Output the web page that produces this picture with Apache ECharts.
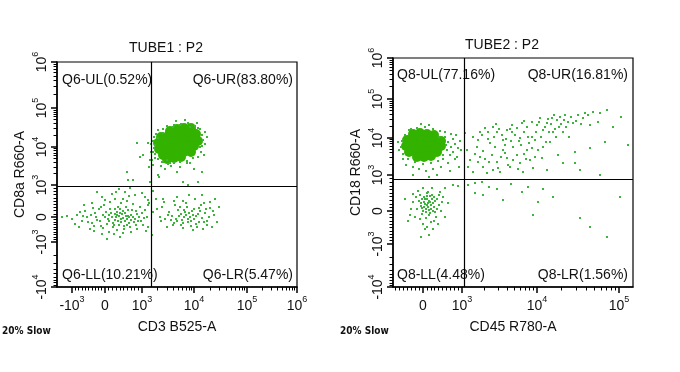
<!DOCTYPE html>
<html><head><meta charset="utf-8">
<script src="https://cdn.jsdelivr.net/npm/echarts@6/dist/echarts.min.js"></script>
<style>html,body{margin:0;padding:0;background:#fff}#c{width:680px;height:372px}</style>
</head><body><div id="c"></div><script>
// ---------- Display-channel scale values (biexponential display units) ----------
// TUBE1 axes
const t1XTicks = [15, 48, 85, 137, 190, 240];
const t1XLabels = ['-10^3', '0', '10^3', '10^4', '10^5', '10^6'];
const t1YTicks = [0, 45, 70, 102, 140, 179, 225];
const t1YLabels = ['-10^4', '-10^3', '0', '10^3', '10^4', '10^5', '10^6'];
const t1Gate = [94, 101];
// TUBE2 axes
const t2XTicks = [30, 69, 144, 226];
const t2XLabels = ['0', '10^3', '10^4', '10^5'];
const t2YTicks = [0, 43, 76, 112, 149, 188, 229];
const t2YLabels = ['-10^4', '-10^3', '0', '10^3', '10^4', '10^5', '10^6'];
const t2Gate = [71, 108];

const t1Quad = ['Q6-UL(0.52%)', 'Q6-UR(83.80%)', 'Q6-LL(10.21%)', 'Q6-LR(5.47%)'];
const t2Quad = ['Q8-UL(77.16%)', 'Q8-UR(16.81%)', 'Q8-LL(4.48%)', 'Q8-LR(1.56%)'];

// ---------- Events (CD3 vs CD8a) ----------
const t1Core = [[113,156],[120,158],[127,159],[134,159],
 [104,150],[111,151],[118,152],[125,152],[132,153],[139,153],
 [101,144],[108,145],[115,146],[122,146],[129,147],[136,147],[141,146],
 [102,138],[109,139],[116,140],[123,140],[130,141],[137,141],
 [106,132],[113,133],[120,134],[127,135],[134,135],
 [110,128],[117,129],[124,130]];
const t1Dots = [[99,153],[101,157],[106,158],[110,161],[117,162],[124,163],[131,164],[138,161],[143,158],[145,152],[146,147],[145,141],[144,135],[141,130],[136,129],[130,126],[123,125],[117,124],[111,123],[106,125],[101,128],[98,133],[97,139],[96,146],[97,150],[119,166],[128,167],[140,164],[148,155],[148,143],[147,132],[133,124],[114,121],[104,121],[95,127],[94,135],[94,143],[80,144],[83,130],[86,132],[93,127],[91,144],[76,107],[70,115],[101,112],[113,124],[120,115],[123,120],[130,124],[143,140],[141,159],[133,160],[116,160],[123,162],[106,154],[101,149],[98,142],[96,135],[98,129],[105,125],[110,127],[126,105],[131,102],[141,105],[145,115],[102,110],[93,105],[71,107],[108,118],[137,118],[150,150],[92,120],[96,122],
 // lower-left population
 [66,69],[62,71],[70,68],[58,67],[74,72],[64,65],[68,74],[55,70],[78,68],[60,75],[72,64],[52,66],[80,73],[67,61],[63,78],[57,62],[75,77],[48,70],[84,66],[69,80],[61,66],[71,71],[65,73],[59,70],[77,65],[54,74],[82,70],[50,63],[73,60],[46,72],
 [40,67],[44,61],[38,74],[35,64],[42,78],[30,70],[33,58],[28,76],[25,66],[20,72],[15,68],[10,71],[22,60],[47,82],[53,85],[58,88],[64,84],[70,86],[76,83],[83,80],[88,77],[86,62],[80,58],[74,55],[66,54],[60,57],[52,55],[45,53],[37,56],[88,90],[78,92],[68,95],[55,93],[45,90],[62,98],[73,99],[35,84],[90,70],[91,82],[89,56],[63,50],[50,48],[27,82],[18,63],[5,70],[40,95],[85,94],
 [64,68],[68,66],[60,72],[72,70],[66,76],[56,64],[62,62],[70,62],[76,70],[58,78],[52,72],[79,76],
 [43,66],[49,75],[56,60],[61,80],[67,58],[79,62],[85,74],[39,70],[34,72],[31,65],[26,71],[23,75],[37,61],[46,59],[53,78],[71,77],[74,67],[63,74],[58,73],[69,71],[81,66],[87,69],[51,68],[44,80],[36,79],[57,53],[66,88],[72,91],[59,95],[48,87],
 // lower-right population
 [133,70],[129,72],[137,68],[125,67],[141,73],[131,65],[135,76],[122,71],[145,69],[127,77],[139,63],[119,68],[148,74],[134,61],[130,80],[124,62],[142,79],[115,71],[150,66],[136,72],
 [112,75],[108,68],[105,80],[118,82],[126,86],[138,88],[147,84],[153,79],[157,72],[160,65],[155,60],[146,58],[136,57],[126,59],[116,62],[110,60],[104,66],[120,90],[132,92],[145,92],[158,88],[162,80],[107,85],[150,62],[142,65],[128,75],[121,77],[117,64],[144,82],[152,70],
 [131,68],[127,70],[139,71],[134,66],[124,73],[143,76],[120,66],[147,65],[137,78],[132,74],[114,67],[156,76],[153,85],[129,84],[123,80],[140,60],[111,72],[117,86],[149,78],[126,64],
 [96,96],[99,88],[106,88],[92,84],[100,78],[91,60],[95,52],[96,75],[91,87],[103,70]];

// ---------- Events (CD45 vs CD18) ----------
const t2Core = [[20,153],[27,154],[34,153],[41,152],
 [14,147],[21,148],[28,147],[35,148],[42,147],[48,146],
 [13,141],[20,141],[27,142],[34,141],[41,141],[48,141],
 [16,135],[23,135],[30,136],[37,135],[44,135],
 [24,130],[31,130],[38,131]];
const t2Dots = [[52,150],[55,145],[58,140],[54,137],[60,148],[62,143],[65,139],[57,132],[50,128],[45,126],[38,124],[30,123],[22,125],[15,128],[10,133],[8,140],[9,146],[12,152],[16,157],[24,159],[32,160],[40,158],[47,156],[52,155],[58,153],[63,152],[67,146],[68,137],[62,128],[55,124],[48,120],[40,118],[33,116],[26,118],[20,120],[13,122],[6,137],[5,145],[28,163],[20,112],[44,112],[57,116],[66,120],[36,110],[50,132],[53,142],[46,150],[10,128],[18,158],[36,162],[60,135],[64,130],
 // upper-right band
 [72,154],[80,150],[87,155],[92,159],[100,160],[104,155],[109,152],[114,157],[119,162],[124,159],[129,164],[134,160],[139,165],[144,162],[147,169],[150,157],[154,164],[159,169],[164,167],[167,170],[172,172],[175,165],[180,164],[185,172],[190,169],[195,172],[200,175],[207,174],[214,177],[197,162],[212,145],[235,142],[182,135],[197,139],[165,132],[170,124],[182,124],[154,117],[187,117],[207,112],
 [74,137],[77,127],[84,140],[87,130],[90,120],[97,144],[99,132],[104,125],[100,117],[110,137],[114,129],[117,120],[120,140],[124,132],[127,124],[130,115],[134,137],[137,127],[140,119],[145,137],[149,129],[107,115],[94,114],[80,115],[75,120],[85,147],[110,147],[127,149],[139,150],
 [152,160],[158,163],[162,158],[168,163],[173,160],[156,155],[163,150],[170,155],[143,155],[135,150],[128,142],[118,146],[112,142],[122,152],[95,148],[102,140],[90,136],[82,133],[96,125],[108,130],[115,122],[125,118],[133,128],[142,130],[150,140],[157,145],[176,150],[220,160],[228,170],[205,165],
 [95,155],[101,150],[106,158],[113,148],[119,155],[126,146],[131,155],[136,144],[142,147],[148,150],[153,145],[160,155],[166,160],[171,167],[178,170],[183,166],[188,163],[192,174],[161,172],[155,168],[146,165],[131,166],[117,158],[103,163],[89,152],[85,125],[92,128],[120,127],[131,133],[105,119],[112,134],[139,139],
 // below the horizontal gate
 [60,102],[65,101],[52,99],[75,102],[82,104],[89,105],[82,94],[90,92],[110,87],[129,95],[140,72],[145,85],[160,90],[187,69],[197,60],[214,50],[227,90],[96,100],[104,98],[118,103],[135,100],[150,98],
 // lower-left population
 [35,80],[32,83],[38,78],[30,76],[40,84],[34,88],[28,81],[42,75],[36,72],[31,90],[39,92],[26,86],[44,88],[33,69],[37,85],[29,73],[41,80],[35,95],[24,78],[46,82],[27,92],[43,70],[38,65],[30,63],[22,70],[20,85],[48,76],[50,90],[32,58],[40,58],[25,96],[18,78],[15,66],[45,63],[52,70],[36,52],[28,50],[47,95],[34,94],[39,99],[30,99],[55,84],[12,88],[20,93],
 [36,86],[33,78],[39,88],[31,85],[37,91],[34,82],[41,90],[29,88],
 [33,75],[36,77],[31,80],[38,82],[35,84],[32,88],[40,76],[29,79],[37,74],[34,91],[42,86],[28,84],[27,68],[44,78],[23,90],[49,85],[17,72],[41,66],[34,60],[46,92]];

// ---------- helpers ----------
const FONT = '"Liberation Sans", Arial, sans-serif';
const rich = {
  b: {fontSize: 14, fontFamily: FONT, color: '#111', verticalAlign: 'bottom', lineHeight: 18},
  s: {fontSize: 9, fontFamily: FONT, color: '#111', verticalAlign: 'top', lineHeight: 18}
};
function richLabel(t) {
  const p = t.split('^');
  return p.length > 1 ? '{b|' + p[0] + '}{s|' + p[1] + '}' : '{b|' + p[0] + '}';
}
function labelFor(ticks, labels) {
  return v => { for (let i = 0; i < ticks.length; i++) if (Math.abs(ticks[i] - v) < 1e-6) return richLabel(labels[i]); return ''; };
}
// minor ticks between the labelled decades: 'log', 'nlog' (negative decade), 'lin'
function minors(ticks, kinds, lo, hi) {
  const out = [];
  for (let i = 0; i < kinds.length; i++) {
    const a = ticks[i], b = ticks[i + 1], k = kinds[i];
    for (let m = 2; m <= 9; m++) {
      if (k === 'log') out.push(a + (b - a) * Math.log10(m));
      else if (k === 'nlog') out.push(b - (b - a) * Math.log10(m));
    }
    if (k === 'lin') for (let m = 1; m <= 9; m++) out.push(a + (b - a) * m / 10);
  }
  return out.filter(v => v >= lo && v <= hi);
}
function xAxes(grid, max, ticks, labels, minorVals, name) {
  return [{
    type: 'value', gridIndex: grid, min: 0, max: max, position: 'bottom',
    name: name, nameLocation: 'middle', nameGap: 33,
    nameTextStyle: {fontSize: 14, fontFamily: FONT, color: '#111'},
    axisLine: {show: true, lineStyle: {color: '#000', width: 1.5}},
    axisTick: {show: true, customValues: ticks, length: 6, lineStyle: {color: '#000', width: 1.5}},
    axisLabel: {customValues: ticks, formatter: labelFor(ticks, labels), rich: rich, margin: 8, showMinLabel: true, showMaxLabel: true},
    splitLine: {show: false}
  }, {
    type: 'value', gridIndex: grid, min: 0, max: max, position: 'bottom',
    axisLine: {show: false}, axisLabel: {show: false}, splitLine: {show: false},
    axisTick: {show: true, customValues: minorVals, length: 3.5, lineStyle: {color: '#000', width: 1}}
  }];
}
function yAxes(grid, max, ticks, labels, minorVals, name) {
  return [{
    type: 'value', gridIndex: grid, min: 0, max: max, position: 'left',
    name: name, nameLocation: 'middle', nameGap: 30,
    nameTextStyle: {fontSize: 14, fontFamily: FONT, color: '#111'},
    axisLine: {show: true, lineStyle: {color: '#000', width: 1.5}},
    axisTick: {show: true, customValues: ticks, length: 6, lineStyle: {color: '#000', width: 1.5}},
    axisLabel: {customValues: ticks, formatter: labelFor(ticks, labels), rich: rich, rotate: 90, margin: 8, showMinLabel: true, showMaxLabel: true},
    splitLine: {show: false}
  }, {
    type: 'value', gridIndex: grid, min: 0, max: max, position: 'left',
    axisLine: {show: false}, axisLabel: {show: false}, splitLine: {show: false},
    axisTick: {show: true, customValues: minorVals, length: 3.5, lineStyle: {color: '#000', width: 1}}
  }];
}

const t1XMin = minors(t1XTicks, ['lin', 'lin', 'log', 'log', 'log'], 0, 240);
const t1YMin = minors(t1YTicks, ['nlog', 'lin', 'lin', 'log', 'log', 'log'], 0, 225);
const t2XMin = minors([-9].concat(t2XTicks), ['lin', 'lin', 'log', 'log'], 0, 240);
const t2YMin = minors(t2YTicks, ['nlog', 'lin', 'lin', 'log', 'log', 'log'], 0, 229);

const CORE = '#33b300', DOT = '#3db53d';
function gateLines(g) {
  return {silent: true, symbol: ['none', 'none'], label: {show: false},
    lineStyle: {color: '#000', width: 1.2, type: 'solid'},
    data: [{xAxis: g[0]}, {yAxis: g[1]}]};
}
function quadText(labels, l, r, top, bottom) {
  const st = (x, y, t, al) => ({type: 'text', x: x, y: y, style: {text: t, font: '14px ' + FONT, fill: '#111', align: al, verticalAlign: 'middle'}});
  return [st(l, top, labels[0], 'left'), st(r, top, labels[1], 'right'), st(l, bottom, labels[2], 'left'), st(r, bottom, labels[3], 'right')];
}

const chart = echarts.init(document.getElementById('c'), null, {renderer: 'canvas'});
chart.setOption({
  animation: false,
  backgroundColor: '#fff',
  grid: [
    {left: 57, top: 62, width: 240, height: 225, show: true, borderColor: '#000', borderWidth: 1.2, backgroundColor: 'transparent'},
    {left: 393, top: 58, width: 240, height: 229, show: true, borderColor: '#000', borderWidth: 1.2, backgroundColor: 'transparent'}
  ],
  xAxis: [].concat(xAxes(0, 240, t1XTicks, t1XLabels, t1XMin, 'CD3 B525-A'), xAxes(1, 240, t2XTicks, t2XLabels, t2XMin, 'CD45 R780-A')),
  yAxis: [].concat(yAxes(0, 225, t1YTicks, t1YLabels, t1YMin, 'CD8a R660-A'), yAxes(1, 229, t2YTicks, t2YLabels, t2YMin, 'CD18 R660-A')),
  series: [
    {type: 'scatter', xAxisIndex: 0, yAxisIndex: 0, data: t1Core, symbol: 'circle', symbolSize: 10, itemStyle: {color: CORE, opacity: 1}, silent: true},
    {type: 'scatter', xAxisIndex: 0, yAxisIndex: 0, data: t1Dots, symbol: 'rect', symbolSize: 2, itemStyle: {color: DOT, opacity: 1}, silent: true, markLine: gateLines(t1Gate)},
    {type: 'scatter', xAxisIndex: 2, yAxisIndex: 2, data: t2Core, symbol: 'circle', symbolSize: 10, itemStyle: {color: CORE, opacity: 1}, silent: true},
    {type: 'scatter', xAxisIndex: 2, yAxisIndex: 2, data: t2Dots, symbol: 'rect', symbolSize: 2, itemStyle: {color: DOT, opacity: 1}, silent: true, markLine: gateLines(t2Gate)}
  ],
  graphic: [
    {type: 'text', x: 166, y: 48, style: {text: 'TUBE1 : P2', font: '14px ' + FONT, fill: '#111', align: 'center', verticalAlign: 'middle'}},
    {type: 'text', x: 502, y: 45, style: {text: 'TUBE2 : P2', font: '14px ' + FONT, fill: '#111', align: 'center', verticalAlign: 'middle'}},
    {type: 'text', x: 2, y: 331, style: {text: '20% Slow', font: 'bold 10px "Liberation Sans Narrow", "DejaVu Sans Condensed", sans-serif', fill: '#111', align: 'left', verticalAlign: 'middle'}},
    {type: 'text', x: 340, y: 331, style: {text: '20% Slow', font: 'bold 10px "Liberation Sans Narrow", "DejaVu Sans Condensed", sans-serif', fill: '#111', align: 'left', verticalAlign: 'middle'}}
  ].concat(quadText(t1Quad, 62, 293, 80, 275), quadText(t2Quad, 397, 628, 75, 275))
});
</script></body></html>
